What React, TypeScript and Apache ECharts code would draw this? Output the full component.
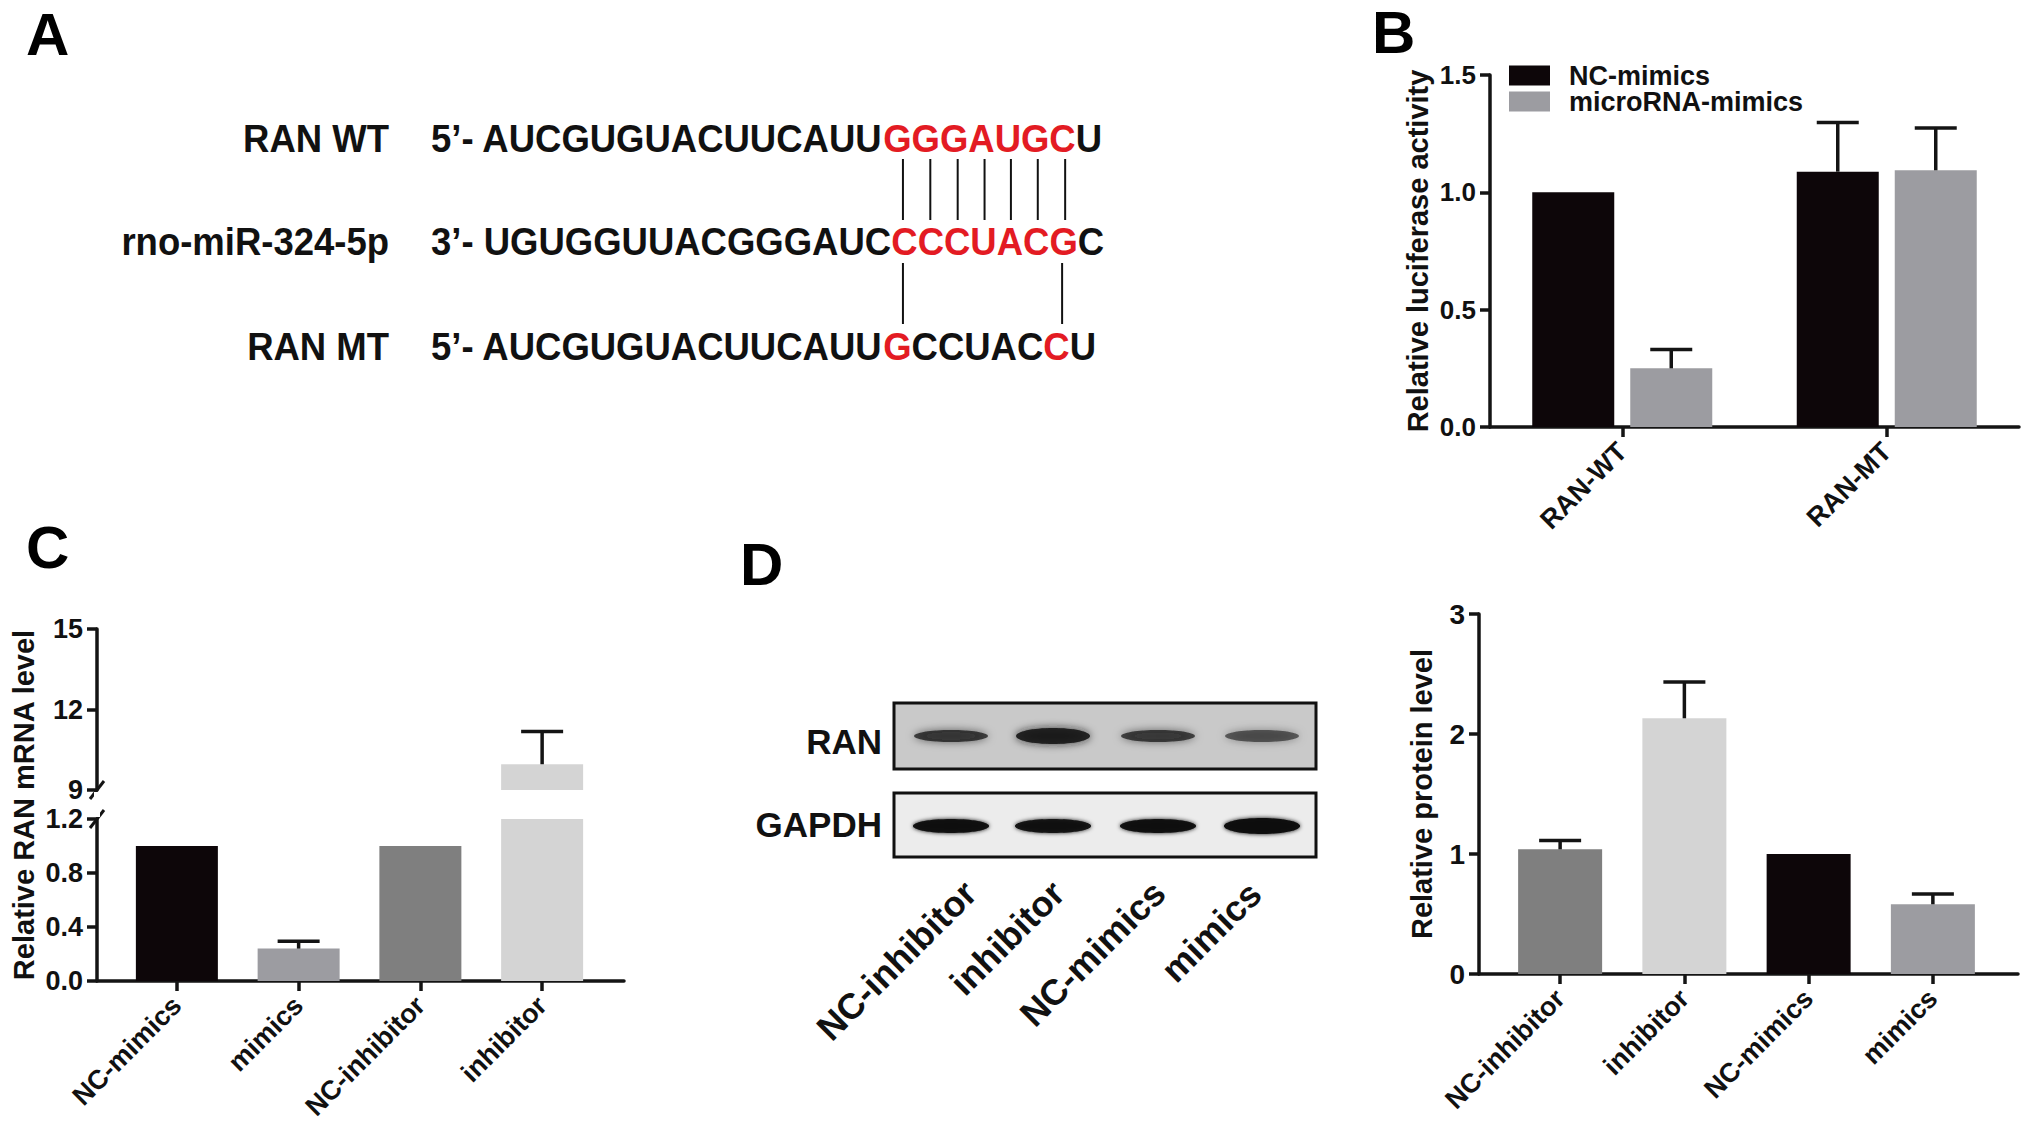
import React, { useEffect, useRef } from 'react';
import * as echarts from 'echarts';

const FONT = 'Arial, "Liberation Sans", Helvetica, sans-serif';

// ---------- Panel A: sequences ----------
const seqLabels = ['RAN WT', 'rno-miR-324-5p', 'RAN MT'];
const seqPrefixes = ['5’- ', '3’- ', '5’- '];
const seqs = ['AUCGUGUACUUCAUUGGGAUGCU', 'UGUGGUUACGGGAUCCCCUACGC', 'AUCGUGUACUUCAUUGCCUACCU'];
const redIdx = [[15, 16, 17, 18, 19, 20, 21], [15, 16, 17, 18, 19, 20, 21], [15, 21]];
const pairsTop = [15, 16, 17, 18, 19, 20, 21];
const pairsBottom = [15, 21];

// ---------- Panel B: luciferase ----------
const bCats = ['RAN-WT', 'RAN-MT'];
const bSeriesNames = ['NC-mimics', 'microRNA-mimics'];
const bNC = [1.0, 1.088];
const bNCErr = [0, 0.21];
const bMi = [0.25, 1.094];
const bMiErr = [0.08, 0.18];
const bTicks = [0, 0.5, 1.0, 1.5];

// ---------- Panel C: mRNA ----------
const cCats = ['NC-mimics', 'mimics', 'NC-inhibitor', 'inhibitor'];
const cVals = [1.0, 0.24, 1.0, 9.96];
const cErr = [0, 0.055, 0, 1.22];
const cLowTicks = [0, 0.4, 0.8, 1.2];
const cHighTicks = [9, 12, 15];

// ---------- Panel D: protein ----------
const dCats = ['NC-inhibitor', 'inhibitor', 'NC-mimics', 'mimics'];
const dVals = [1.039, 2.131, 1.0, 0.581];
const dErr = [0.073, 0.302, 0, 0.085];
const dTicks = [0, 1, 2, 3];
const blotRows = ['RAN', 'GAPDH'];
const blotLanes = ['NC-inhibitor', 'inhibitor', 'NC-mimics', 'mimics'];
const ranIntensity = [0.72, 0.9, 0.7, 0.58];
const gapdhIntensity = [0.95, 0.92, 0.95, 0.98];

// colours
const BLACK = '#0d0609';
const GRAY = '#9c9ca1';
const DGRAY = '#7f7f7f';
const LGRAY = '#d4d4d4';
const RED = '#e31b23';
const INK = '#141414';
const cColors = [BLACK, GRAY, DGRAY, LGRAY];
const dColors = [DGRAY, LGRAY, BLACK, GRAY];

// layout
const B_GRID = { left: 1490, top: 75, width: 529, height: 352 };
const C_LOW = { left: 116, top: 819, width: 487, height: 162 };
const C_UP = { left: 116, top: 629, width: 487, height: 161 };
const C_LINE = { left: 97, top: 819, width: 527, height: 162 };
const D_GRID = { left: 1498, top: 614, width: 497, height: 360 };
const D_LINE = { left: 1479, top: 614, width: 539, height: 360 };
const BAR_W = 82;
const B_GAP = 16;
const CAP = 42;
const AX = { color: INK, width: 3.5 };

function measure(text: string, size: number) {
  const ctx = document.createElement('canvas').getContext('2d')!;
  ctx.font = `bold ${size}px ${FONT}`;
  return ctx.measureText(text).width;
}

const errItem = (offset: number) => (params: any, api: any) => {
  const cat = api.value(0);
  const v = api.value(1);
  const e = api.value(2);
  const a = api.coord([cat, v]);
  const b = api.coord([cat, v + e]);
  const x = a[0] + offset;
  const st = { stroke: INK, lineWidth: 3.5 };
  return {
    type: 'group',
    children: [
      { type: 'line', shape: { x1: x, y1: a[1], x2: x, y2: b[1] }, style: st },
      { type: 'line', shape: { x1: x - CAP / 2, y1: b[1], x2: x + CAP / 2, y2: b[1] }, style: st },
    ],
  };
};

function yAxisOf(gridIndex: number, ticks: number[], fmt: (v: number) => string, fontSize: number, offset = 0, extra: any = {}) {
  return {
    type: 'value',
    gridIndex,
    min: ticks[0],
    max: ticks[ticks.length - 1],
    interval: ticks[1] - ticks[0],
    offset,
    axisLine: { show: true, lineStyle: AX },
    axisTick: { show: true, length: 10, lineStyle: AX },
    axisLabel: { fontSize, fontWeight: 'bold', color: '#111', fontFamily: FONT, margin: 14, formatter: fmt },
    splitLine: { show: false },
    ...extra,
  };
}

function xCatOf(gridIndex: number, cats: string[], showLine: boolean) {
  return {
    type: 'category',
    gridIndex,
    data: cats,
    axisLine: { show: showLine, lineStyle: AX },
    axisTick: { show: true, alignWithLabel: true, length: 10, lineStyle: AX },
    axisLabel: { rotate: 45, interval: 0, fontSize: 27, fontWeight: 'bold', color: '#111', fontFamily: FONT, margin: 20 },
    splitLine: { show: false },
  };
}

function lineAxisX(gridIndex: number) {
  return {
    type: 'value', gridIndex, min: 0, max: 1,
    axisLine: { show: true, onZero: false, lineStyle: AX },
    axisTick: { show: false }, axisLabel: { show: false }, splitLine: { show: false },
  };
}
function hiddenY(gridIndex: number) {
  return { type: 'value', gridIndex, min: 0, max: 1, show: false };
}

function buildGraphics() {
  const g: any[] = [];
  const letter = (t: string, x: number, y: number) => g.push({
    type: 'text', x, y, style: { text: t, font: `bold 60px ${FONT}`, fill: '#000', align: 'left', verticalAlign: 'middle' },
  });
  letter('A', 26, 34);
  letter('B', 1372, 32);
  letter('C', 26, 547);
  letter('D', 740, 564);

  // Panel A
  const FS = 36.5;
  const SY = 1.08;
  const rowY = [139, 242, 347];
  const labelRight = 389;
  const seqLeft = 431;
  const centers: number[][] = [];
  seqs.forEach((s, i) => {
    g.push({ type: 'text', x: labelRight, y: rowY[i], scaleY: SY, style: { text: seqLabels[i], font: `bold ${FS}px ${FONT}`, fill: '#111', align: 'right', verticalAlign: 'middle' } });
    const isRed = (k: number) => redIdx[i].indexOf(k) >= 0;
    let rich = '';
    let cur = seqPrefixes[i];
    let curRed = false;
    for (let k = 0; k < s.length; k++) {
      const r = isRed(k);
      if (r !== curRed) {
        rich += `{${curRed ? 'r' : 'k'}|${cur}}`;
        cur = '';
        curRed = r;
      }
      cur += s[k];
    }
    rich += `{${curRed ? 'r' : 'k'}|${cur}}`;
    const part = { fontSize: FS, fontWeight: 'bold', fontFamily: FONT };
    g.push({
      type: 'text', x: seqLeft, y: rowY[i], scaleY: SY,
      style: {
        text: rich, font: `bold ${FS}px ${FONT}`, fill: '#111', align: 'left', verticalAlign: 'middle',
        rich: { k: { ...part, fill: '#111' }, r: { ...part, fill: RED } },
      },
    });
    centers.push(s.split('').map((ch, k) => seqLeft + measure(seqPrefixes[i] + s.slice(0, k), FS) + measure(ch, FS) / 2));
  });
  const pairLine = (x: number, y1: number, y2: number) => g.push({ type: 'line', shape: { x1: x, y1, x2: x, y2 }, style: { stroke: '#111', lineWidth: 2 } });
  pairsTop.forEach((k) => pairLine((centers[0][k] + centers[1][k]) / 2 + 2, 159, 220));
  pairsBottom.forEach((k) => pairLine((centers[1][k] + centers[2][k]) / 2 + 2, 263, 324));

  // Panel C title and axis breaks
  g.push({ type: 'text', x: 24, y: 805, rotation: Math.PI / 2, style: { text: 'Relative RAN mRNA level', font: `bold 29px ${FONT}`, fill: '#111', align: 'center', verticalAlign: 'middle' } });
  const axX = C_LINE.left;
  [C_UP.top + C_UP.height, C_LOW.top].forEach((y) => g.push({ type: 'line', shape: { x1: axX - 7, y1: y + 9, x2: axX + 7, y2: y - 9 }, style: { stroke: INK, lineWidth: 3 } }));
  g.push({ type: 'rect', shape: { x: axX - 3, y: C_UP.top + C_UP.height + 2, width: 6, height: C_LOW.top - C_UP.top - C_UP.height - 4 }, style: { fill: '#fff' } });

  // Panel D blot
  const boxX = 894, boxW = 422;
  const boxes = [{ y: 703, h: 66, fill: '#c9c9c9', labelY: 741 }, { y: 793, h: 64, fill: '#ececec', labelY: 824 }];
  const laneX = [951, 1053, 1158, 1262];
  boxes.forEach((b, i) => {
    g.push({ type: 'rect', shape: { x: boxX, y: b.y, width: boxW, height: b.h }, style: { fill: b.fill, stroke: '#111', lineWidth: 3 } });
    g.push({ type: 'text', x: 882, y: b.labelY, style: { text: blotRows[i], font: `bold 35px ${FONT}`, fill: '#111', align: 'right', verticalAlign: 'middle' } });
  });
  laneX.forEach((x, i) => {
    const a = ranIntensity[i];
    g.push({ type: 'ellipse', shape: { cx: x, cy: 736, rx: 37, ry: i === 1 ? 8 : 6 }, style: { fill: `rgba(20,20,20,${a})`, shadowBlur: 8, shadowColor: `rgba(20,20,20,${a})` } });
    const b = gapdhIntensity[i];
    g.push({ type: 'ellipse', shape: { cx: x, cy: 826, rx: 38, ry: i === 3 ? 8 : 7 }, style: { fill: `rgba(8,8,8,${b})`, shadowBlur: 4, shadowColor: `rgba(8,8,8,${b})` } });
  });
  const labelEnds = [[970, 887], [1058, 887], [1159, 887], [1255, 888]];
  blotLanes.forEach((t, i) => g.push({
    type: 'text', x: labelEnds[i][0], y: labelEnds[i][1], rotation: Math.PI / 4,
    style: { text: t, font: `bold 36px ${FONT}`, fill: '#111', align: 'right', verticalAlign: 'middle' },
  }));
  return g;
}

function buildOption(): any {
  const off = (BAR_W + B_GAP) / 2;
  const f1 = (v: number) => v.toFixed(1);
  const f0 = (v: number) => String(v);
  const errData = (vals: number[], errs: number[], keep: (v: number) => boolean) =>
    vals.map((v, i) => [i, v, errs[i]]).filter((d) => d[2] > 0 && keep(d[1]));
  const nameStyle = { fontSize: 29, fontWeight: 'bold', color: '#111', fontFamily: FONT };
  return {
    animation: false,
    backgroundColor: '#fff',
    textStyle: { fontFamily: FONT },
    grid: [
      { ...B_GRID, outerBoundsMode: 'none' },
      { ...C_LOW, outerBoundsMode: 'none' },
      { ...C_UP, outerBoundsMode: 'none' },
      { ...C_LINE, outerBoundsMode: 'none' },
      { ...D_GRID, outerBoundsMode: 'none' },
      { ...D_LINE, outerBoundsMode: 'none' },
    ],
    legend: {
      data: bSeriesNames, orient: 'vertical', left: 1509, top: 62, padding: 0,
      itemWidth: 41, itemHeight: 20, itemGap: -1, icon: 'rect', selectedMode: false,
      textStyle: { fontSize: 27, fontWeight: 'bold', color: '#111', fontFamily: FONT, padding: [0, 0, 0, 14] },
    },
    xAxis: [
      xCatOf(0, bCats, true),
      xCatOf(1, cCats, false),
      { ...xCatOf(2, cCats, false), show: false },
      lineAxisX(3),
      xCatOf(4, dCats, false),
      lineAxisX(5),
    ],
    yAxis: [
      yAxisOf(0, bTicks, f1, 26, 0, {
        name: 'Relative luciferase activity', nameLocation: 'middle', nameGap: 58, nameTextStyle: nameStyle,
      }),
      yAxisOf(1, cLowTicks, f1, 27, C_LOW.left - C_LINE.left),
      yAxisOf(2, cHighTicks, f0, 27, C_UP.left - C_LINE.left),
      hiddenY(3),
      yAxisOf(4, dTicks, f0, 28, D_GRID.left - D_LINE.left, {
        name: 'Relative protein level', nameLocation: 'middle', nameGap: 43, nameTextStyle: nameStyle,
      }),
      hiddenY(5),
    ],
    series: [
      { type: 'bar', name: bSeriesNames[0], xAxisIndex: 0, yAxisIndex: 0, data: bNC, barWidth: BAR_W, barGap: `${(B_GAP / BAR_W) * 100}%`, itemStyle: { color: BLACK } },
      { type: 'bar', name: bSeriesNames[1], xAxisIndex: 0, yAxisIndex: 0, data: bMi, barWidth: BAR_W, barGap: `${(B_GAP / BAR_W) * 100}%`, itemStyle: { color: GRAY } },
      { type: 'custom', xAxisIndex: 0, yAxisIndex: 0, z: 5, renderItem: errItem(-off), data: errData(bNC, bNCErr, () => true) },
      { type: 'custom', xAxisIndex: 0, yAxisIndex: 0, z: 5, renderItem: errItem(off), data: errData(bMi, bMiErr, () => true) },
      // C lower
      { type: 'bar', xAxisIndex: 1, yAxisIndex: 1, barWidth: BAR_W, clip: true, data: cVals.map((v, i) => ({ value: v, itemStyle: { color: cColors[i] } })) },
      { type: 'custom', xAxisIndex: 1, yAxisIndex: 1, z: 5, renderItem: errItem(0), data: errData(cVals, cErr, (v) => v <= cLowTicks[cLowTicks.length - 1]) },
      // C upper
      { type: 'bar', xAxisIndex: 2, yAxisIndex: 2, barWidth: BAR_W, clip: true, data: cVals.map((v, i) => (v > cLowTicks[cLowTicks.length - 1] ? { value: v, itemStyle: { color: cColors[i] } } : '-')) },
      { type: 'custom', xAxisIndex: 2, yAxisIndex: 2, z: 5, renderItem: errItem(0), data: errData(cVals, cErr, (v) => v > cLowTicks[cLowTicks.length - 1]) },
      // D
      { type: 'bar', xAxisIndex: 4, yAxisIndex: 4, barWidth: 84, data: dVals.map((v, i) => ({ value: v, itemStyle: { color: dColors[i] } })) },
      { type: 'custom', xAxisIndex: 4, yAxisIndex: 4, z: 5, renderItem: errItem(0), data: errData(dVals, dErr, () => true) },
    ],
    graphic: buildGraphics(),
  };
}

export default function App() {
  const ref = useRef<HTMLDivElement>(null);
  useEffect(() => {
    document.body.style.margin = '0';
    const chart = echarts.init(ref.current!, null, { renderer: 'svg' });
    chart.setOption(buildOption());
    return () => chart.dispose();
  }, []);
  return <div ref={ref} style={{ width: 2031, height: 1131, background: '#fff' }} />;
}
